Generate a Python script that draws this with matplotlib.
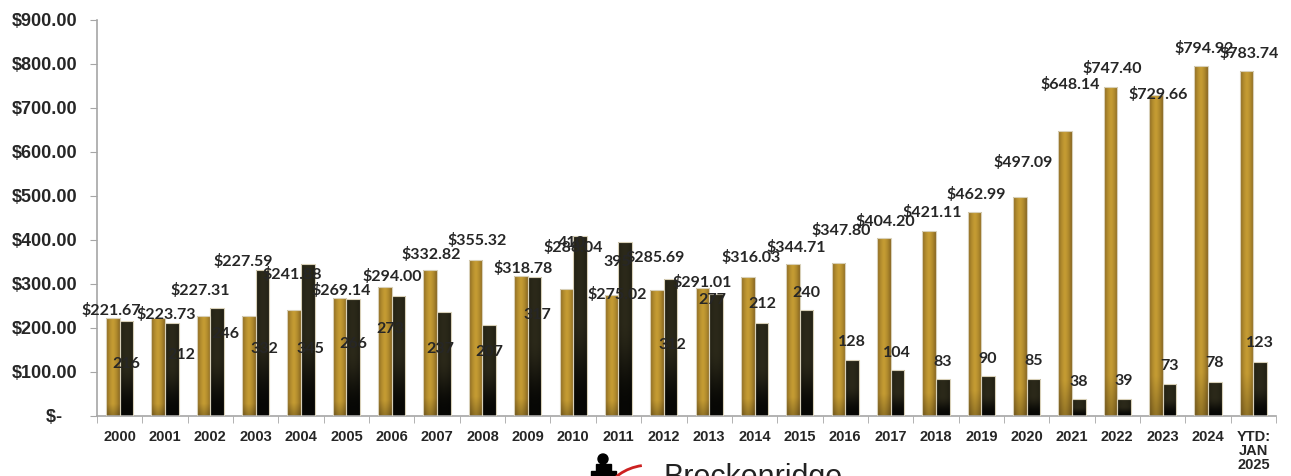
import matplotlib.pyplot as plt
import matplotlib.patches as mpatches
import numpy as np

plt.rcParams['text.parse_math'] = False

years = ['2000', '2001', '2002', '2003', '2004', '2005', '2006', '2007', '2008',
         '2009', '2010', '2011', '2012', '2013', '2014', '2015', '2016', '2017',
         '2018', '2019', '2020', '2021', '2022', '2023', '2024', 'YTD:\nJAN\n2025']
avg_price = [221.67, 223.73, 227.31, 227.59, 241.88, 269.14, 294.00, 332.82, 355.32,
             318.78, 288.04, 275.02, 285.69, 291.01, 316.03, 344.71, 347.80, 404.20,
             421.11, 462.99, 497.09, 648.14, 747.40, 729.66, 794.92, 783.74]
units_sold = [216, 212, 246, 332, 345, 266, 273, 237, 207, 317, 410, 395, 312, 277,
              212, 240, 128, 104, 83, 90, 85, 38, 39, 73, 78, 123]

# label nudges in pixels (Excel placed them rather oddly)
price_dx = [-2, 8, -3, -6, -2, 2, 7, 1, 2, 2, 7, 6, -2, 0, 3, 3, 3, 2, 3, 2, 3, 5, 2, 2, 3, 3]
price_dy = [8, 3, 25, 54, 35, 7, 10, 15, 19, 7, 42, 0, 33, 5, 19, 17, 32, 17, 18, 18, 35, 46, 19, 0, 18, 18]
units_dx = [0, 10, 8, 2, 3, 0, -8, -4, 0, 3, -8, -8, 2, -4, 1, 0, 0, 0, 0, 0, 0, 0, 0, 0, 0, 0]
units_dy = [-43, -32, -26, -79, -85, -45, -33, -37, -27, -38, -7, -20, -66, -6,
            19, 17, 18, 17, 17, 17, 18, 17, 18, 18, 19, 19]


def gold_gradient(nx=40, ny=100):
    xs = np.linspace(-1, 1, nx)
    ys = np.linspace(0, 1, ny)
    c_mid = np.array([0.77, 0.61, 0.20])
    c_edge = np.array([0.53, 0.40, 0.13])
    m = np.clip(np.abs(xs) ** 1.6, 0, 1)
    row = c_mid[None, :] * (1 - m[:, None]) + c_edge[None, :] * m[:, None]
    img = np.repeat(row[None, :, :], ny, axis=0)
    bot = np.clip((0.12 - ys) / 0.12, 0, 1)[:, None, None]
    img = img * (1 - 0.25 * bot)
    return img


def dark_gradient(nx=40, ny=100):
    xs = np.linspace(-1, 1, nx)
    ys = np.linspace(0, 1, ny)
    c_top = np.array([0.17, 0.16, 0.10])
    c_bot = np.array([0.03, 0.03, 0.02])
    t = np.clip((ys - 0.05) / 0.5, 0, 1)
    t = t * t * (3 - 2 * t)
    col = c_bot[None, :] + (c_top - c_bot)[None, :] * t[:, None]
    img = np.repeat(col[:, None, :], nx, axis=1)
    img = img * (1 - 0.25 * np.abs(xs)[None, :, None] ** 2)
    return img


fig = plt.figure(figsize=(12.91, 4.76), dpi=100)
ax = fig.add_axes([97 / 1291, 60 / 476, 1179 / 1291, 396 / 476])

x = np.arange(len(years))
w = 0.3
txt_col = '#262626'

gold_bars = ax.bar(x - w / 2, avg_price, w, color='none', edgecolor='#d8d0b8', linewidth=0.8, zorder=3)
dark_bars = ax.bar(x + w / 2, units_sold, w, color='none', edgecolor='#d8d0b8', linewidth=0.8, zorder=3)

g_img = gold_gradient()
d_img = dark_gradient()
for rect in gold_bars:
    im = ax.imshow(g_img, extent=[rect.get_x(), rect.get_x() + rect.get_width(), 0, rect.get_height()],
                   aspect='auto', origin='lower', zorder=2, interpolation='bilinear')
    im.set_clip_path(rect)
for rect in dark_bars:
    im = ax.imshow(d_img, extent=[rect.get_x(), rect.get_x() + rect.get_width(), 0, rect.get_height()],
                   aspect='auto', origin='lower', zorder=2, interpolation='bilinear')
    im.set_clip_path(rect)

for i in range(len(years)):
    ax.annotate('$%.2f' % avg_price[i], xy=(x[i] - w / 2, avg_price[i]),
                xytext=(price_dx[i], price_dy[i]), textcoords='offset pixels',
                ha='center', va='center', fontsize=11.5, fontweight='bold',
                family='Lato', color=txt_col, zorder=5)
    ax.annotate(str(units_sold[i]), xy=(x[i] + w / 2, units_sold[i]),
                xytext=(units_dx[i], units_dy[i]), textcoords='offset pixels',
                ha='center', va='center', fontsize=11.5, fontweight='bold',
                family='Lato', color=txt_col, zorder=5)

ax.set_xlim(-0.5, len(years) - 0.5)
ax.set_ylim(0, 900)

yt = np.arange(0, 1000, 100)
ax.set_yticks(yt)
ax.set_yticklabels(['$-   ' if v == 0 else '$%.2f' % v for v in yt],
                   fontsize=13, fontweight='bold', family='Liberation Sans', color=txt_col)
ax.tick_params(axis='y', length=5, color='#a6a6a6', pad=9)

ax.set_xticks(x)
ax.set_xticklabels(years, fontsize=10.5, fontweight='bold', family='Liberation Sans',
                   color=txt_col, linespacing=1.0, va='top')
ax.set_xticks(np.arange(-0.5, len(years), 1), minor=True)
ax.tick_params(axis='x', which='major', length=0, pad=10)
ax.tick_params(axis='x', which='minor', length=5, color='#a6a6a6')

for s in ['top', 'right']:
    ax.spines[s].set_visible(False)
for s in ['left', 'bottom']:
    ax.spines[s].set_color('#a6a6a6')
    ax.spines[s].set_linewidth(1.2)

# logo, cut off at the bottom edge
fig.text(663 / 1291, 1 - 463 / 476, 'Breckenridge', fontsize=22, family='Liberation Sans',
         color='#222222', ha='left', va='top')
fig.patches.append(mpatches.Ellipse((603 / 1291, 1 - 459 / 476), 10 / 1291, 10 / 476,
                                    transform=fig.transFigure, color='black'))
fig.patches.append(mpatches.Rectangle((596 / 1291, 0), 15 / 1291, 12 / 476,
                                      transform=fig.transFigure, color='black'))
fig.patches.append(mpatches.Rectangle((591 / 1291, 0), 25 / 1291, 5 / 476,
                                      transform=fig.transFigure, color='black'))
fig.patches.append(mpatches.Arc((650 / 1291, 1 - 500 / 476), 90 / 1291, 70 / 476, theta1=95, theta2=150,
                                transform=fig.transFigure, color='#cc2020', linewidth=2))

fig.savefig('out.png', dpi=100)
